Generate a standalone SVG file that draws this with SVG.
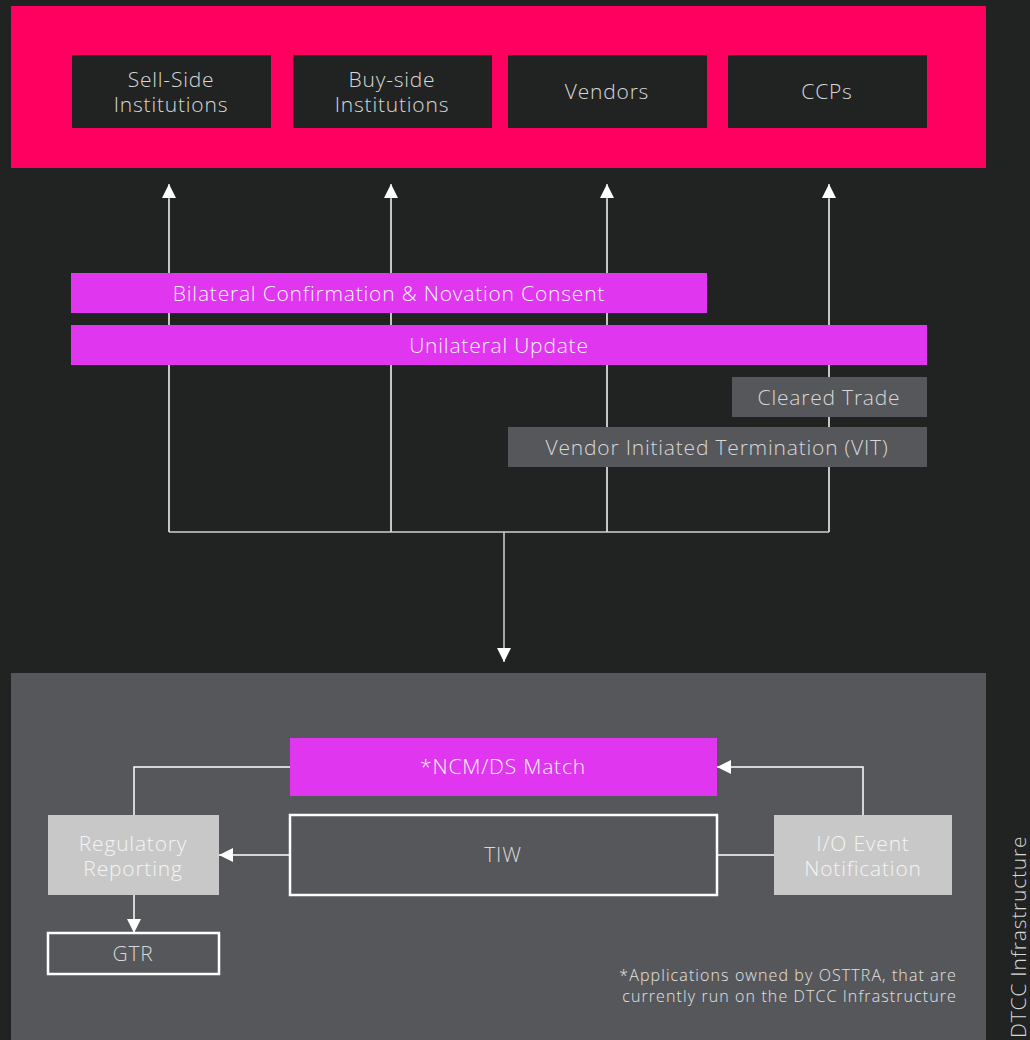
<svg xmlns="http://www.w3.org/2000/svg" width="1030" height="1040" viewBox="0 0 1030 1040">
<defs>
<style>
.t{font-family:"Open Sans","Liberation Sans",sans-serif;font-weight:300;font-size:21px;fill:#d8d8d8;text-anchor:middle;letter-spacing:0.8px}
.w{fill:#f4f4f4}
.ln{stroke:#d0d0d0;stroke-width:1.5;fill:none}
.lw{stroke:#ffffff;stroke-width:1.5;fill:none}
.top{fill:#212322}
.mag{fill:#e036f0}
.gr{fill:#56575b}
.lg{fill:#c8c8c8}
.ob{fill:none;stroke:#ffffff;stroke-width:2.5}
.fn{font-size:16px;text-anchor:end;fill:#e4e4e4;letter-spacing:1.1px}
</style>
<marker id="ah" markerWidth="14" markerHeight="14" viewBox="0 0 14 14" refX="14" refY="7" orient="auto" markerUnits="userSpaceOnUse">
<path d="M0,0 L14,7 L0,14 z" fill="#ffffff"/>
</marker>
</defs>
<rect width="1030" height="1040" fill="#212322"/>
<g id="participants">
<rect x="11" y="6" width="975" height="162" fill="#ff0060"/>
</g>
<g id="sell-side"><rect class="top" x="72" y="55" width="199" height="73"/><text class="t" x="171" y="87">Sell-Side</text><text class="t" x="171" y="112">Institutions</text></g>
<g id="buy-side"><rect class="top" x="293" y="55" width="199" height="73"/><text class="t" x="392" y="87">Buy-side</text><text class="t" x="392" y="112">Institutions</text></g>
<g id="vendors"><rect class="top" x="508" y="55" width="199" height="73"/><text class="t" x="607" y="99">Vendors</text></g>
<g id="ccps"><rect class="top" x="728" y="55" width="199" height="73"/><text class="t" x="827" y="99">CCPs</text></g>
<g id="dtcc-panel"><rect x="11" y="673" width="975" height="367" fill="#56575b"/></g>
<g id="connectors">
<path class="ln" d="M169,532 V199 M391,532 V199 M607,532 V199 M829,532 V199 M169,532 H829" />
<path class="ln" d="M169,532 V184" marker-end="url(#ah)"/>
<path class="ln" d="M391,532 V184" marker-end="url(#ah)"/>
<path class="ln" d="M607,532 V184" marker-end="url(#ah)"/>
<path class="ln" d="M829,532 V184" marker-end="url(#ah)"/>
<path class="ln" d="M504,532 V662" marker-end="url(#ah)"/>
<path class="lw" d="M290,767 H134 V815"/>
<path class="lw" d="M290,855 H219" marker-end="url(#ah)"/>
<path class="lw" d="M134,895 V933" marker-end="url(#ah)"/>
<path class="lw" d="M863,815 V767 H717" marker-end="url(#ah)"/>
<path class="lw" d="M717,855 H774"/>
</g>
<g id="bilateral"><rect class="mag" x="71" y="273" width="636" height="40"/><text class="t w" x="389" y="301">Bilateral Confirmation &amp; Novation Consent</text></g>
<g id="unilateral"><rect class="mag" x="71" y="325" width="856" height="40"/><text class="t w" x="499" y="353">Unilateral Update</text></g>
<g id="cleared-trade"><rect class="gr" x="732" y="377" width="195" height="40"/><text class="t" x="829" y="405">Cleared Trade</text></g>
<g id="vit"><rect class="gr" x="508" y="427" width="419" height="40"/><text class="t" x="717" y="455">Vendor Initiated Termination (VIT)</text></g>
<g id="ncm"><rect class="mag" x="290" y="738" width="427" height="58"/><text class="t w" x="503" y="774">*NCM/DS Match</text></g>
<g id="tiw"><rect class="ob" x="290" y="815" width="427" height="80"/><text class="t" x="503" y="862">TIW</text></g>
<g id="regulatory"><rect class="lg" x="48" y="815" width="171" height="80"/><text class="t w" x="133" y="851">Regulatory</text><text class="t w" x="133" y="876">Reporting</text></g>
<g id="gtr"><rect class="ob" x="48" y="933" width="171" height="41"/><text class="t" x="133" y="961">GTR</text></g>
<g id="io-event"><rect class="lg" x="774" y="815" width="178" height="80"/><text class="t w" x="863" y="851">I/O Event</text><text class="t w" x="863" y="876">Notification</text></g>
<g id="footnote">
<text class="t fn" x="957" y="981">*Applications owned by OSTTRA, that are</text>
<text class="t fn" x="957" y="1002">currently run on the DTCC Infrastructure</text>
</g>
<g id="dtcc-label"><text class="t" style="text-anchor:start" transform="translate(1026,1038) rotate(-90)">DTCC Infrastructure</text></g>
</svg>
